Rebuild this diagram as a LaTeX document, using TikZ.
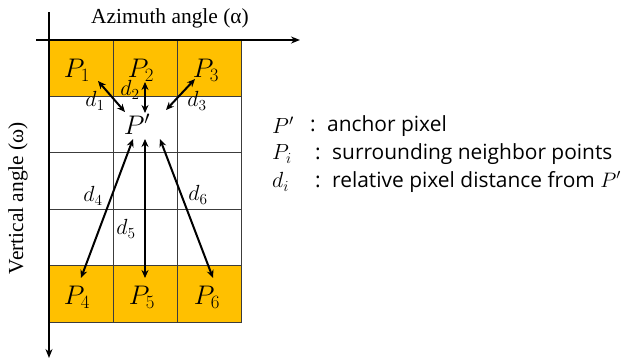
\RequirePackage{fix-cm}
\documentclass[tikz,border=0pt]{standalone}
\usepackage{fontspec}
\setmainfont{Liberation Serif}
\newfontfamily\legendfont{Open Sans}
\usetikzlibrary{arrows.meta}
\definecolor{gold}{RGB}{255,192,0}
\definecolor{gridgray}{RGB}{60,60,60}
\begin{document}
\begin{tikzpicture}[x=1bp,y=-1bp,
  cellbox/.style={draw=gridgray, line width=0.8bp, minimum width=64bp, minimum height=56.4bp, inner sep=0pt, outer sep=0pt},
  hot/.style={cellbox, fill=gold},
  axis/.style={line width=2bp, -{Stealth[length=9bp,width=7bp]}},
  darrow/.style={line width=2bp, {Stealth[length=8bp,width=7bp]}-{Stealth[length=8bp,width=7bp]}},
  plabel/.style={font=\fontsize{27}{27}\selectfont, inner sep=0pt},
  dlabel/.style={font=\fontsize{22}{22}\selectfont, inner sep=0pt},
  axlabel/.style={font=\fontsize{21.5}{22}\selectfont, inner sep=0pt},
  legend/.style={font=\legendfont\fontsize{21}{22}\selectfont, anchor=west, inner sep=0pt},
  legsym/.style={font=\fontsize{22}{22}\selectfont, anchor=west, inner sep=0pt}]
\useasboundingbox (0,0) rectangle (630,363);
% grid cells
\foreach \r in {2,3,4} \foreach \c in {1,2,3}
  \node[cellbox] (c\r\c) at ({49+64*(\c-0.5)}, {40+56.4*(\r-0.5)}) {};
\foreach \r in {1,5} \foreach \c in {1,2,3}
  \node[hot] (c\r\c) at ({49+64*(\c-0.5)}, {40+56.4*(\r-0.5)}) {};
% axes
\coordinate (hx0) at (36,40);
\coordinate (hx1) at (300,40);
\coordinate (vy0) at (49,12);
\coordinate (vy1) at (49,358);
\draw[axis] (hx0) -- (hx1);
\draw[axis] (vy0) -- (vy1);
\node[axlabel] (az) at (170,18) {Azimuth angle (α)};
\node[axlabel, rotate=90] (va) at (18,198) {Vertical angle (ω)};
% point labels
\node[plabel] (p1) at (77,70) {$P_1$};
\node[plabel] (p2) at (141,70) {$P_2$};
\node[plabel] (p3) at (206,70) {$P_3$};
\node[plabel] (pp) at (137,124) {$P'$};
\node[plabel] (p4) at (77,297) {$P_4$};
\node[plabel] (p5) at (142,297) {$P_5$};
\node[plabel] (p6) at (207,297) {$P_6$};
% distance labels
\node[dlabel] (d1) at (95,101) {$d_1$};
\node[dlabel] (d2) at (130,90) {$d_2$};
\node[dlabel] (d3) at (197,101) {$d_3$};
\node[dlabel] (d4) at (93,196) {$d_4$};
\node[dlabel] (d5) at (126,229) {$d_5$};
\node[dlabel] (d6) at (198,195) {$d_6$};
% arrows
\coordinate (a1s) at (98,81);  \coordinate (a1e) at (125,112);
\coordinate (a2s) at (145,82); \coordinate (a2e) at (145,113);
\coordinate (a3s) at (195,79); \coordinate (a3e) at (166,110);
\coordinate (a4s) at (133,139); \coordinate (a4e) at (81,278);
\coordinate (a5s) at (145,139); \coordinate (a5e) at (145,278);
\coordinate (a6s) at (160,139); \coordinate (a6e) at (213,278);
\foreach \i in {1,...,6} \draw[darrow] (a\i s) -- (a\i e);
% legend
\node[legsym] (l1s) at (272,125) {$P'$};
\node[legend] (l1c) at (310,126) {:};
\node[legend] (l1t) at (327,126) {anchor pixel};
\node[legsym] (l2s) at (272,154) {$P_i$};
\node[legend] (l2c) at (315,154) {:};
\node[legend] (l2t) at (332,154) {surrounding neighbor points};
\node[legsym] (l3s) at (272,182) {$d_i$};
\node[legend] (l3c) at (315,182) {:};
\node[legend] (l3t) at (332,182) {relative pixel distance from $P'$};
\end{tikzpicture}
\end{document}
